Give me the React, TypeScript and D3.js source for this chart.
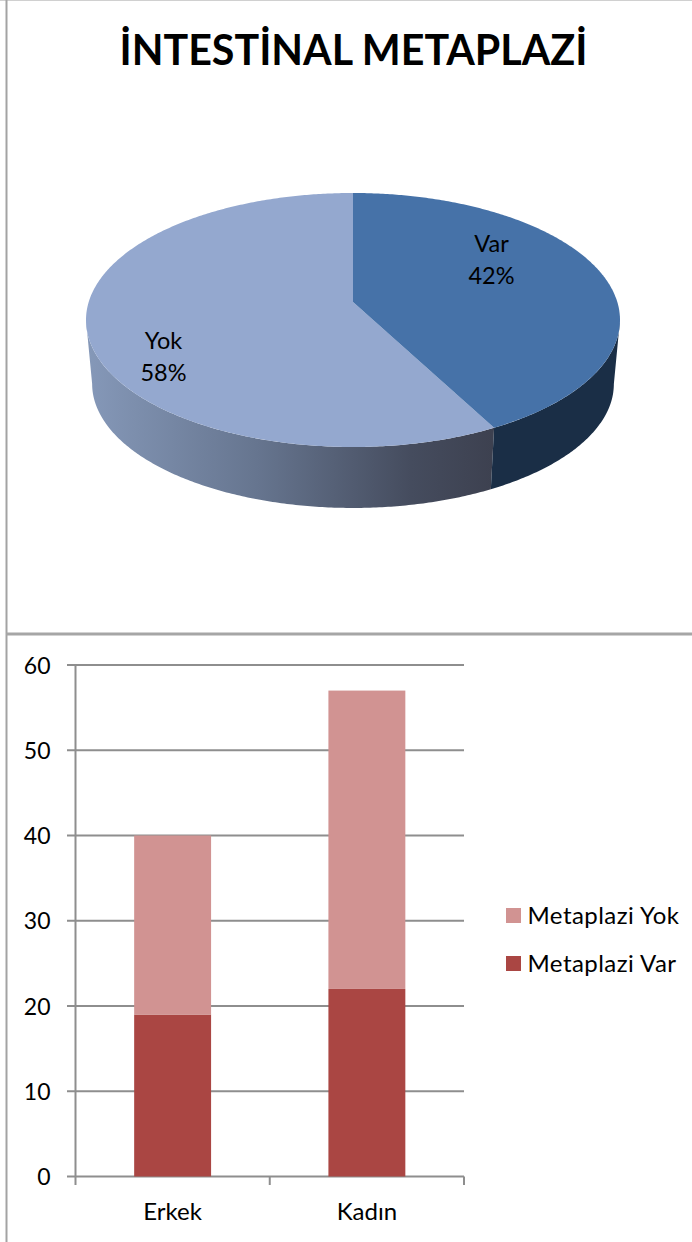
import React from "react";
import * as d3 from "d3";

// Gender breakdown of intestinal metaplasia counts
const categories = ["Erkek", "Kadın"];
const seriesKeys = ["Metaplazi Var", "Metaplazi Yok"];
const metaplaziVar = [19, 22];
const metaplaziYok = [21, 35];
const barTicks = [0, 10, 20, 30, 40, 50, 60];
const legendOrder = ["Metaplazi Yok", "Metaplazi Var"];
const pieLabels = ["Var", "Yok"];
const pieTotals = [d3.sum(metaplaziVar), d3.sum(metaplaziYok)];

const FONT = "Lato, 'Open Sans', sans-serif";
const barColors: Record<string, string> = { "Metaplazi Var": "#AA4643", "Metaplazi Yok": "#D19392" };
const axisColor = "#8E8E8E";

// Perspective projection of the disc: the centre sits above the middle of the visible ellipse
const tilt = 0.1417;
const discA = 264.3;
const discB = 124.45;
const discX = 353;
const topY = 302;
const floorY = 366.3;
const floorScale = 0.977;

// Angles at which the projected rim reaches its left and right extremes
const rightExtreme = Math.acos(-tilt);
const leftExtreme = 2 * Math.PI - rightExtreme;

function rimPoint(angle: number, floor: boolean): [number, number] {
  const ux = Math.sin(angle);
  const uy = -Math.cos(angle);
  const w = 1 - tilt * uy;
  const s = floor ? floorScale : 1;
  return [discX + (s * discA * ux) / w, (floor ? floorY : topY) + (s * discB * uy) / w];
}

function samples(a0: number, a1: number): number[] {
  const n = Math.max(2, Math.ceil((a1 - a0) / 0.01));
  return d3.range(n + 1).map((i) => a0 + ((a1 - a0) * i) / n);
}

const pathOf = d3.line().curve(d3.curveLinear);

function topFace(a0: number, a1: number): string {
  const pts: [number, number][] = [[discX, topY], ...samples(a0, a1).map((a) => rimPoint(a, false))];
  return pathOf(pts) + "Z";
}

// Only the front of the wall is visible, so each slice is clipped to the rim extremes
function sideWall(a0: number, a1: number): string {
  const ang = samples(Math.max(a0, rightExtreme), Math.min(a1, leftExtreme));
  const pts = [...ang.map((a) => rimPoint(a, false)), ...ang.slice().reverse().map((a) => rimPoint(a, true))];
  return pathOf(pts) + "Z";
}

export default function App() {
  const slices = d3.pie<number>().sort(null)(pieTotals);
  const total = d3.sum(pieTotals);
  const pct = d3.format(".0%");

  const y = d3.scaleLinear().domain([0, 60]).range([1176.5, 665]);
  const x = d3
    .scaleBand<string>()
    .domain(categories)
    .range([75.5, 464])
    .paddingInner(0.604)
    .paddingOuter(0.302);
  const rows = categories.map((c, i) => ({
    category: c,
    "Metaplazi Var": metaplaziVar[i],
    "Metaplazi Yok": metaplaziYok[i],
  }));
  const stacked = d3.stack<any>().keys(seriesKeys)(rows);
  const step = x.step();
  const xEdges = d3.range(categories.length + 1).map((i) => 75.5 + i * step);

  const labelPos = [
    { x: 491.5, y1: 251.5, y2: 283.5 },
    { x: 163.5, y1: 348.5, y2: 381 },
  ];

  return (
    <svg
      width={692}
      height={1242}
      viewBox="0 0 692 1242"
      style={{ position: "absolute", left: 0, top: 0, background: "#fff" }}
      fontFamily={FONT}
    >
      <defs>
        <linearGradient id="yokWall" gradientUnits="userSpaceOnUse" x1={88} x2={492} y1={0} y2={0}>
          <stop offset="0" stopColor="#8598B8" />
          <stop offset="0.42" stopColor="#66758F" />
          <stop offset="0.8" stopColor="#454C5E" />
          <stop offset="1" stopColor="#3D4150" />
        </linearGradient>
      </defs>

      {/* panel frames */}
      <line x1={0} x2={692} y1={0.5} y2={0.5} stroke="#D0D0D0" />
      <line x1={6.5} x2={6.5} y1={0} y2={1242} stroke="#A3A3A3" strokeWidth={2} />
      <line x1={6} x2={692} y1={634} y2={634} stroke="#A6A6A6" strokeWidth={3} />

      <text x={353.5} y={65} textAnchor="middle" fontSize={41.2} fontWeight={700} fill="#000">
        İNTESTİNAL METAPLAZİ
      </text>

      {/* 3D pie: walls first, then the top faces */}
      <path d={sideWall(slices[1].startAngle, slices[1].endAngle)} fill="url(#yokWall)" />
      <path d={sideWall(slices[0].startAngle, slices[0].endAngle)} fill="#1A2E46" />
      <path d={topFace(slices[1].startAngle, slices[1].endAngle)} fill="#94A8CF" />
      <path d={topFace(slices[0].startAngle, slices[0].endAngle)} fill="#4672A8" />
      {slices.map((s, i) => (
        <g key={pieLabels[i]} fontSize={23.5} fill="#000" textAnchor="middle">
          <text x={labelPos[i].x} y={labelPos[i].y1}>{pieLabels[i]}</text>
          <text x={labelPos[i].x} y={labelPos[i].y2}>{pct(s.value / total)}</text>
        </g>
      ))}

      {/* stacked bars */}
      {barTicks.map((t) => (
        <g key={t}>
          <line x1={67} x2={464} y1={y(t)} y2={y(t)} stroke={axisColor} strokeWidth={2} />
          <text x={50.5} y={y(t) + 8.5} textAnchor="end" fontSize={23} fill="#000">{t}</text>
        </g>
      ))}
      <line x1={75.5} x2={75.5} y1={y(60)} y2={1185} stroke={axisColor} strokeWidth={2} />
      {xEdges.slice(1).map((e) => (
        <line key={e} x1={e} x2={e} y1={y(0)} y2={1185} stroke={axisColor} strokeWidth={2} />
      ))}
      {stacked.map((layer) =>
        layer.map((d, i) => (
          <rect
            key={layer.key + categories[i]}
            x={x(categories[i])}
            width={x.bandwidth()}
            y={y(d[1])}
            height={y(d[0]) - y(d[1])}
            fill={barColors[layer.key]}
          />
        ))
      )}
      {categories.map((c) => (
        <text key={c} x={(x(c) as number) + x.bandwidth() / 2} y={1219.5} textAnchor="middle" fontSize={24} fill="#000">
          {c}
        </text>
      ))}

      {/* legend */}
      {legendOrder.map((k, i) => (
        <g key={k}>
          <rect x={506} y={908 + i * 48} width={15} height={15} fill={barColors[k]} />
          <text x={527.5} y={923.5 + i * 48} fontSize={24} letterSpacing={0.45} fill="#000">{k}</text>
        </g>
      ))}
    </svg>
  );
}
